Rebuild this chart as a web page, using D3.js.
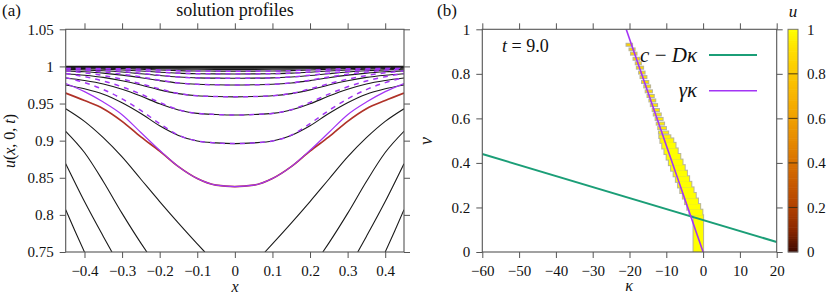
<!DOCTYPE html>
<html>
<head>
<meta charset="utf-8">
<script src="https://cdn.jsdelivr.net/npm/d3@7"></script>
<style>
  body { margin: 0; background: #fff; }
  svg text { font-family: "Liberation Serif", "Times New Roman", serif; fill: #111; }
</style>
</head>
<body>
<script>
// ---------- data, panel (a): profiles u(x,0,t) ----------
var xGrid = [-0.45,-0.4,-0.35,-0.3,-0.25,-0.2,-0.15,-0.1,-0.05,0,0.05,0.1,0.15,0.2,0.25,0.3,0.35,0.4,0.45];

var uSteady = [1,1,1,1,1,1,1,1,1,1,1,1,1,1,1,1,1,1,1];
var prof10 = [0.9996,0.9996,0.9995,0.9993,0.9991,0.9988,0.9987,0.9986,0.9985,0.9985,0.9985,0.9986,0.9987,0.9988,0.9991,0.9993,0.9995,0.9996,0.9996];
var prof9 = [0.9994,0.9993,0.9991,0.9988,0.9985,0.9981,0.9978,0.9976,0.9975,0.9975,0.9975,0.9976,0.9978,0.9981,0.9985,0.9988,0.9991,0.9993,0.9994];
var prof8 = [0.999,0.9988,0.9986,0.9981,0.9976,0.9969,0.9964,0.9961,0.996,0.996,0.996,0.9961,0.9964,0.9969,0.9976,0.9981,0.9986,0.9988,0.999];
var prof7 = [0.9985,0.9981,0.9977,0.997,0.9961,0.9951,0.9943,0.9938,0.9937,0.9936,0.9937,0.9938,0.9943,0.9951,0.9961,0.997,0.9977,0.9981,0.9985];
var prof6 = [0.9976,0.997,0.9963,0.9952,0.9938,0.9922,0.9909,0.9902,0.9899,0.9898,0.9899,0.9902,0.9909,0.9922,0.9938,0.9952,0.9963,0.997,0.9976];
var prof5 = [0.9962,0.9954,0.9942,0.9925,0.9902,0.9877,0.9857,0.9845,0.9842,0.984,0.9842,0.9845,0.9857,0.9877,0.9902,0.9925,0.9942,0.9954,0.9962];
var prof4 = [0.994,0.9928,0.991,0.9883,0.9848,0.9808,0.9777,0.9759,0.9753,0.975,0.9753,0.9759,0.9777,0.9808,0.9848,0.9883,0.991,0.9928,0.994];
var prof3 = [0.9902,0.9881,0.9852,0.9807,0.975,0.9684,0.9633,0.9604,0.9594,0.959,0.9594,0.9604,0.9633,0.9684,0.975,0.9807,0.9852,0.9881,0.9902];
var prof2 = [0.9843,0.981,0.9764,0.9692,0.960,0.9496,0.9414,0.9367,0.9352,0.9345,0.9352,0.9367,0.9414,0.9496,0.960,0.9692,0.9764,0.981,0.9843];
var prof1 = [0.975,0.9698,0.9626,0.9511,0.9366,0.920,0.907,0.8995,0.897,0.896,0.897,0.8995,0.907,0.920,0.9366,0.9511,0.9626,0.9698,0.975];

// asymptotic profiles (dashed)
var asym7 = [0.9991,0.9987,0.9981,0.9973,0.9964,0.9953,0.9943,0.9938,0.9937,0.9936,0.9937,0.9938,0.9943,0.9953,0.9964,0.9973,0.9981,0.9987,0.9991];
var asym6 = [0.9985,0.9979,0.9969,0.9957,0.9942,0.9925,0.9909,0.9902,0.9899,0.9898,0.9899,0.9902,0.9909,0.9925,0.9942,0.9957,0.9969,0.9979,0.9985];
var asym5 = [0.9977,0.9966,0.9952,0.9933,0.9909,0.9882,0.9858,0.9845,0.9842,0.984,0.9842,0.9845,0.9858,0.9882,0.9909,0.9933,0.9952,0.9966,0.9977];
var asym4 = [0.9964,0.9948,0.9925,0.9895,0.9858,0.9815,0.9778,0.9759,0.9753,0.975,0.9753,0.9759,0.9778,0.9815,0.9858,0.9895,0.9925,0.9948,0.9964];
var asym3 = [0.9941,0.9914,0.9877,0.9828,0.9766,0.9697,0.9635,0.9604,0.9594,0.959,0.9594,0.9604,0.9635,0.9697,0.9766,0.9828,0.9877,0.9914,0.9941];
var asym2 = [0.9905,0.9862,0.9803,0.9725,0.9627,0.9515,0.9417,0.9367,0.9352,0.9345,0.9352,0.9367,0.9417,0.9515,0.9627,0.9725,0.9803,0.9862,0.9905];
var asym1 = [0.9849,0.9782,0.9688,0.9563,0.9407,0.923,0.9074,0.8995,0.897,0.896,0.897,0.8995,0.9074,0.923,0.9407,0.9563,0.9688,0.9782,0.9849];

// highlighted profile (red) and its approximation (purple, solid)
var profRed = [0.964,0.954,0.943,0.926,0.905,0.886,0.865,0.849,0.840,0.838,0.840,0.849,0.865,0.886,0.905,0.926,0.943,0.954,0.964];
var profPurple = [0.977,0.966,0.952,0.935,0.911,0.887,0.865,0.849,0.840,0.838,0.840,0.849,0.865,0.887,0.911,0.935,0.952,0.966,0.977];

// early profiles, cut by the lower edge of the plot (left and right branches)
var earlyX = [
  [[-0.45,-0.4,-0.35,-0.3,-0.25,-0.2,-0.15,-0.1,-0.08], [0.08,0.1,0.15,0.2,0.25,0.3,0.35,0.4,0.45]],
  [[-0.45,-0.4,-0.35,-0.3,-0.25,-0.234], [0.234,0.25,0.3,0.35,0.4,0.45]],
  [[-0.45,-0.4,-0.35,-0.327], [0.327,0.35,0.4,0.45]],
  [[-0.45,-0.425,-0.4], [0.4,0.425,0.45]]
];
var earlyU = [
  [[0.943,0.926,0.904,0.878,0.848,0.818,0.789,0.761,0.75], [0.75,0.761,0.789,0.818,0.848,0.878,0.904,0.926,0.943]],
  [[0.9126,0.884,0.845,0.802,0.762,0.75], [0.75,0.762,0.802,0.845,0.884,0.9126]],
  [[0.869,0.818,0.771,0.75], [0.75,0.771,0.818,0.869]],
  [[0.807,0.778,0.75], [0.75,0.778,0.807]]
];

var xTicksA = [-0.4,-0.3,-0.2,-0.1,0,0.1,0.2,0.3,0.4];
var yTicksA = [0.75,0.8,0.85,0.9,0.95,1,1.05];

// ---------- data, panel (b) ----------
// cells: [nu low, nu high, kappa left, kappa right, u]
var cells = [
  [0, 0.165, -2.6, 0, 1],
  [0.165,0.19,-3.7,-0.2,1],
  [0.19,0.215,-4.3,-0.8,1],
  [0.215,0.24,-4.9,-1.4,1],
  [0.24,0.265,-5.5,-2.0,1],
  [0.265,0.29,-6.2,-2.6,1],
  [0.29,0.315,-6.8,-3.2,1],
  [0.315,0.34,-7.4,-3.8,1],
  [0.34,0.365,-8.0,-4.4,1],
  [0.365,0.39,-8.7,-5.0,1],
  [0.39,0.415,-9.3,-5.6,1],
  [0.415,0.44,-9.9,-6.2,1],
  [0.44,0.465,-10.5,-6.9,1],
  [0.465,0.49,-11.1,-7.5,1],
  [0.49,0.51,-11.6,-8.1,0.98],
  [0.512,0.524,-11.9,-8.9,0.97],
  [0.532,0.541,-12.0,-9.5,0.96],
  [0.552,0.561,-12.2,-10.1,0.95],
  [0.572,0.581,-12.6,-10.6,0.95],
  [0.593,0.602,-12.9,-11.0,0.94],
  [0.613,0.622,-13.4,-11.5,0.94],
  [0.633,0.642,-13.7,-12.0,0.93],
  [0.655,0.664,-14.2,-12.5,0.93],
  [0.676,0.685,-14.6,-13.0,0.92],
  [0.696,0.705,-15.1,-13.4,0.92],
  [0.717,0.726,-15.6,-13.9,0.91],
  [0.739,0.748,-16.0,-14.4,0.91],
  [0.759,0.768,-16.6,-14.9,0.9],
  [0.781,0.790,-17.0,-15.4,0.9],
  [0.801,0.810,-17.4,-15.9,0.89],
  [0.823,0.832,-18.0,-16.3,0.89],
  [0.843,0.852,-18.3,-16.9,0.88],
  [0.863,0.872,-18.9,-17.4,0.88],
  [0.886,0.895,-19.6,-18.1,0.86],
  [0.906,0.914,-20.0,-18.6,0.85],
  [0.926,0.935,-20.8,-19.3,0.84]
];
var lineCD = { kappa: [-60, 20], nu: [0.44, 0.045] };       // c - D kappa
var lineGK = { kappa: [0, -20.9], nu: [0, 1] };             // gamma kappa
var xTicksB = [-60,-50,-40,-30,-20,-10,0,10,20];
var yTicksB = [0,0.2,0.4,0.6,0.8,1];

var cbStops = [0,0.1,0.2,0.3,0.4,0.5,0.6,0.7,0.8,0.9,1];
var cbColors = ["#3c0800","#8a2800","#b04000","#c65800","#d87000","#e68a00","#f0a000","#f8b400","#fcc800","#ffdd00","#ffff00"];
var cbTicks = [0,0.2,0.4,0.6,0.8,1];

// ---------- drawing ----------
var serif = "'Liberation Serif', 'Times New Roman', serif";
var svg = d3.select("body").append("svg").attr("width", 830).attr("height", 296)
  .style("font-family", serif);
var frameColor = "#555";
var fmt = d3.format("~g");

function styleAxis(g) {
  g.attr("font-family", serif).attr("font-size", 15);
  g.select(".domain").remove();
  g.selectAll(".tick line").attr("stroke", frameColor);
}

// panel (a)
var xa = d3.scaleLinear().domain([-0.45, 0.45]).range([65.7, 404]);
var ya = d3.scaleLinear().domain([0.75, 1.05]).range([252, 29.3]);

svg.append("clipPath").attr("id", "clipA").append("rect")
  .attr("x", 65.7).attr("y", 29.3).attr("width", 404 - 65.7).attr("height", 252 - 29.3);

var pa = svg.append("g").attr("clip-path", "url(#clipA)");
var lineA = d3.line().x(function(d, i){ return xa(xGrid[i]); }).y(function(d){ return ya(d); })
  .curve(d3.curveMonotoneX);
var lineXY = d3.line().x(function(d){ return xa(d[0]); }).y(function(d){ return ya(d[1]); })
  .curve(d3.curveMonotoneX);

var blackProfiles = [prof8, prof7, prof6, prof5, prof4, prof3, prof2, prof1];
pa.selectAll(".blk").data(blackProfiles).enter().append("path")
  .attr("d", lineA).attr("fill", "none").attr("stroke", "#1a1a1a").attr("stroke-width", 1.1);

earlyX.forEach(function(branches, k) {
  branches.forEach(function(xs, b) {
    var pts = xs.map(function(x, i){ return [x, earlyU[k][b][i]]; });
    pa.append("path").attr("d", lineXY(pts)).attr("fill", "none")
      .attr("stroke", "#1a1a1a").attr("stroke-width", 1.1);
  });
});

pa.append("path").attr("d", lineA(profRed)).attr("fill", "none")
  .attr("stroke", "#b03228").attr("stroke-width", 1.7);

var dashed = [asym7, asym6, asym5, asym4, asym3, asym2, asym1];
pa.selectAll(".dsh").data(dashed).enter().append("path")
  .attr("d", lineA).attr("fill", "none").attr("stroke", "#a335f5")
  .attr("stroke-width", 1.5).attr("stroke-dasharray", "5,5");

// profiles closest to 1 sit on top and form the dark band
pa.selectAll(".top").data([prof9, prof10, uSteady]).enter().append("path")
  .attr("d", lineA).attr("fill", "none").attr("stroke", "#1a1a1a").attr("stroke-width", 1.2);

pa.append("path").attr("d", lineA(profPurple)).attr("fill", "none")
  .attr("stroke", "#a335f5").attr("stroke-width", 1.2);

svg.append("g").attr("transform", "translate(0,252)")
  .call(d3.axisBottom(xa).tickValues(xTicksA).tickSize(6).tickPadding(7).tickFormat(fmt)).call(styleAxis);
svg.append("g").attr("transform", "translate(0,29.3)")
  .call(d3.axisTop(xa).tickValues(xTicksA).tickSize(6).tickFormat("")).call(styleAxis);
svg.append("g").attr("transform", "translate(65.7,0)")
  .call(d3.axisLeft(ya).tickValues(yTicksA).tickSize(6).tickPadding(6).tickFormat(fmt)).call(styleAxis);
svg.append("g").attr("transform", "translate(404,0)")
  .call(d3.axisRight(ya).tickValues(yTicksA).tickSize(6).tickFormat("")).call(styleAxis);

svg.append("rect").attr("x", 65.7).attr("y", 29.3).attr("width", 404 - 65.7).attr("height", 252 - 29.3)
  .attr("fill", "none").attr("stroke", frameColor).attr("stroke-width", 1.1);

svg.append("text").attr("x", 2).attr("y", 16).attr("font-size", 17).text("(a)");
svg.append("text").attr("x", 235).attr("y", 16).attr("font-size", 18).attr("text-anchor", "middle").text("solution profiles");
svg.append("text").attr("x", 235).attr("y", 292).attr("font-size", 16).attr("text-anchor", "middle")
  .attr("font-style", "italic").text("x");
var yl = svg.append("text").attr("transform", "translate(15,141) rotate(-90)")
  .attr("font-size", 16).attr("text-anchor", "middle");
yl.append("tspan").attr("font-style", "italic").text("u");
yl.append("tspan").text("(");
yl.append("tspan").attr("font-style", "italic").text("x");
yl.append("tspan").text(", 0, ");
yl.append("tspan").attr("font-style", "italic").text("t");
yl.append("tspan").text(")");

// panel (b)
var xb = d3.scaleLinear().domain([-60, 20]).range([482.3, 776.7]);
var yb = d3.scaleLinear().domain([0, 1]).range([252, 29.3]);
var color = d3.scaleLinear().domain(cbStops).range(cbColors);

svg.append("clipPath").attr("id", "clipB").append("rect")
  .attr("x", 482.3).attr("y", 29.3).attr("width", 776.7 - 482.3).attr("height", 252 - 29.3);
var pb = svg.append("g").attr("clip-path", "url(#clipB)");

// outline layer first, fill layer on top: only the outer edge stays grey
pb.selectAll(".cellEdge").data(cells).enter().append("rect")
  .attr("x", function(d){ return xb(d[2]); })
  .attr("y", function(d){ return yb(d[1]); })
  .attr("width", function(d){ return xb(d[3]) - xb(d[2]); })
  .attr("height", function(d){ return yb(d[0]) - yb(d[1]); })
  .attr("fill", "none").attr("stroke", "#b8b49c").attr("stroke-width", 2);
pb.selectAll(".cellFill").data(cells).enter().append("rect")
  .attr("x", function(d){ return xb(d[2]); })
  .attr("y", function(d){ return yb(d[1]); })
  .attr("width", function(d){ return xb(d[3]) - xb(d[2]); })
  .attr("height", function(d){ return yb(d[0]) - yb(d[1]); })
  .attr("fill", function(d){ return color(d[4]); });

var lineB = d3.line().x(function(d){ return xb(d[0]); }).y(function(d){ return yb(d[1]); });
function pairs(o) { return o.kappa.map(function(k, i){ return [k, o.nu[i]]; }); }
pb.append("path").attr("d", lineB(pairs(lineCD))).attr("fill", "none")
  .attr("stroke", "#1b9e77").attr("stroke-width", 2);
pb.append("path").attr("d", lineB(pairs(lineGK))).attr("fill", "none")
  .attr("stroke", "#a335f5").attr("stroke-width", 1.6);

svg.append("g").attr("transform", "translate(0,252)")
  .call(d3.axisBottom(xb).tickValues(xTicksB).tickSize(6).tickPadding(7).tickFormat(fmt)).call(styleAxis);
svg.append("g").attr("transform", "translate(0,29.3)")
  .call(d3.axisTop(xb).tickValues(xTicksB).tickSize(6).tickFormat("")).call(styleAxis);
svg.append("g").attr("transform", "translate(482.3,0)")
  .call(d3.axisLeft(yb).tickValues(yTicksB).tickSize(6).tickPadding(6).tickFormat(fmt)).call(styleAxis);
svg.append("g").attr("transform", "translate(776.7,0)")
  .call(d3.axisRight(yb).tickValues(yTicksB).tickSize(6).tickFormat("")).call(styleAxis);

svg.append("rect").attr("x", 482.3).attr("y", 29.3).attr("width", 776.7 - 482.3).attr("height", 252 - 29.3)
  .attr("fill", "none").attr("stroke", frameColor).attr("stroke-width", 1.1);

svg.append("text").attr("x", 437).attr("y", 16).attr("font-size", 17).text("(b)");
svg.append("text").attr("x", 629).attr("y", 291).attr("font-size", 16).attr("text-anchor", "middle")
  .attr("font-style", "italic").text("κ");
svg.append("text").attr("transform", "translate(432,141) rotate(-90)").attr("font-size", 18)
  .attr("text-anchor", "middle").attr("font-style", "italic").text("ν");

var tl = svg.append("text").attr("x", 502).attr("y", 52).attr("font-size", 18);
tl.append("tspan").attr("font-style", "italic").text("t");
tl.append("tspan").text(" = 9.0");

// legend
var lg1 = svg.append("text").attr("x", 697).attr("y", 62).attr("font-size", 21).attr("text-anchor", "end");
lg1.append("tspan").attr("font-style", "italic").text("c");
lg1.append("tspan").text(" − ");
lg1.append("tspan").attr("font-style", "italic").text("Dκ");
svg.append("line").attr("x1", 709).attr("x2", 757).attr("y1", 55).attr("y2", 55)
  .attr("stroke", "#1b9e77").attr("stroke-width", 2);
svg.append("text").attr("x", 697).attr("y", 97).attr("font-size", 21).attr("text-anchor", "end")
  .attr("font-style", "italic").text("γκ");
svg.append("line").attr("x1", 709).attr("x2", 757).attr("y1", 90.7).attr("y2", 90.7)
  .attr("stroke", "#a335f5").attr("stroke-width", 1.6);

// colour bar
var yc = d3.scaleLinear().domain([0, 1]).range([252, 29.3]);
var bands = d3.range(0, 100).map(function(i){ return i / 100; });
svg.append("g").selectAll("rect").data(bands).enter().append("rect")
  .attr("x", 788).attr("width", 10)
  .attr("y", function(d){ return yc(d + 0.01) - 0.3; })
  .attr("height", yc(0) - yc(0.01) + 0.6)
  .attr("fill", function(d){ return color(d + 0.005); });
svg.append("g").selectAll("line").data([0.2, 0.4, 0.6, 0.8]).enter().append("line")
  .attr("x1", 788).attr("x2", 798).attr("y1", yc).attr("y2", yc)
  .attr("stroke", "#3a2a10").attr("stroke-width", 0.9);
svg.append("rect").attr("x", 788).attr("y", 29.3).attr("width", 10).attr("height", 252 - 29.3)
  .attr("fill", "none").attr("stroke", "#777").attr("stroke-width", 1);
svg.append("g").attr("transform", "translate(798,0)")
  .call(d3.axisRight(yc).tickValues(cbTicks).tickSize(0).tickPadding(9).tickFormat(fmt)).call(styleAxis);
svg.append("text").attr("x", 793).attr("y", 17).attr("font-size", 17).attr("text-anchor", "middle")
  .attr("font-style", "italic").text("u");
</script>
</body>
</html>
